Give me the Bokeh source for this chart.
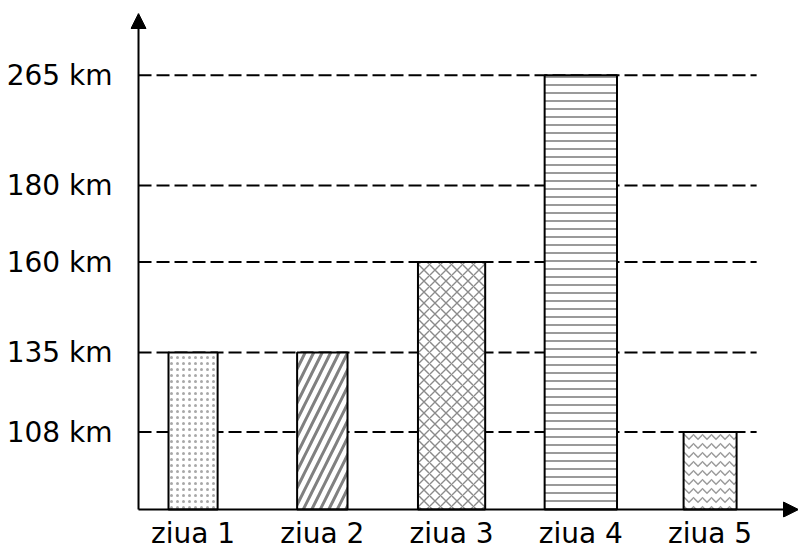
import numpy as np
from bokeh.plotting import figure
from bokeh.models import ColumnDataSource, Range1d, FixedTicker, Arrow, NormalHead
from bokeh.embed import file_html
from bokeh.resources import INLINE

# ---- data ----
days = [1, 2, 3, 4, 5]
day_labels = ["ziua 1", "ziua 2", "ziua 3", "ziua 4", "ziua 5"]
distances_km = [135, 135, 160, 265, 108]
tick_levels_km = [108, 135, 160, 180, 265]

# ---- axis scale (the drawing is not to scale: piecewise-linear y scale) ----
y_anchor_km = [0, 108, 135, 160, 180, 265]
y_anchor_pos = [0, 78, 158, 249, 326, 437]


def warp(v):
    return np.interp(np.asarray(v, dtype=float), y_anchor_km, y_anchor_pos)


bar_widths = [0.38, 0.39, 0.52, 0.56, 0.41]
hatches = ["dot", "right_diagonal_line", "diagonal_cross", "horizontal_line", "horizontal_wave"]
hatch_scales = [6, 17, 11, 8, 9]
hatch_weights = [3, 3, 1.4, 2, 1.5]
hatch_colors = ["#a8a8a8", "#808080", "#8a8a8a", "#9a9a9a", "#9a9a9a"]

FONT = "DejaVu Sans"

# axis-origin and range limits (frame is slightly larger than the axes so arrowheads fit)
x_origin = 0.578
x_start, x_end = 0.516, 5.684
y_start, y_top = -8, 499
grid_end = 5.36

p = figure(width=798, height=552, output_backend="svg", toolbar_location=None,
           x_range=Range1d(x_start, x_end), y_range=Range1d(y_start, y_top),
           min_border_left=130, min_border_right=0, min_border_top=13, min_border_bottom=32)
p.outline_line_color = None
p.xgrid.visible = False
p.ygrid.visible = False
p.background_fill_color = "white"

# dashed reference lines
tick_pos = [int(round(float(t))) for t in warp(tick_levels_km)]
p.segment(x0=[x_origin] * len(tick_pos), x1=[grid_end] * len(tick_pos), y0=tick_pos, y1=tick_pos,
          line_color="black", line_width=2, line_dash="13 5")

src = ColumnDataSource(dict(
    x=days, top=warp(distances_km), w=bar_widths, hatch=hatches,
    hs=hatch_scales, hw=hatch_weights, hc=hatch_colors,
))
p.vbar(x="x", top="top", bottom=0, width="w", source=src,
       fill_color="white", line_color="black", line_width=2,
       hatch_pattern="hatch", hatch_scale="hs", hatch_weight="hw", hatch_color="hc")

# axes (labels only; the axis lines are drawn as arrows)
p.yaxis.ticker = FixedTicker(ticks=tick_pos)
p.yaxis.major_label_overrides = {t: f"{v} km" for t, v in zip(tick_pos, tick_levels_km)}
p.xaxis.ticker = FixedTicker(ticks=days)
p.xaxis.major_label_overrides = {d: lab for d, lab in zip(days, day_labels)}
for ax in (p.xaxis, p.yaxis):
    ax.axis_line_color = None
    ax.major_tick_out = 0
    ax.major_tick_in = 0
    ax.minor_tick_out = 0
    ax.minor_tick_in = 0
    ax.major_label_text_font = FONT
    ax.major_label_text_font_size = "28px"
    ax.major_label_text_color = "black"
p.yaxis.major_label_standoff = 18
p.xaxis.major_label_standoff = -1

# axis lines with arrow heads
p.add_layout(Arrow(end=NormalHead(size=15, fill_color="black", line_color="black"),
                   x_start=x_origin, y_start=0, x_end=x_end, y_end=0,
                   line_color="black", line_width=2))
p.add_layout(Arrow(end=NormalHead(size=15, fill_color="black", line_color="black"),
                   x_start=x_origin, y_start=0, x_end=x_origin, y_end=y_top,
                   line_color="black", line_width=2))

open("out.html", "w").write(file_html(p, INLINE))
